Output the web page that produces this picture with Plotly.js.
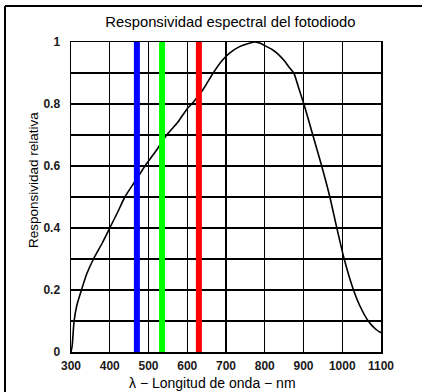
<!DOCTYPE html>
<html>
<head>
<meta charset="utf-8">
<script src="https://cdn.plot.ly/plotly-3.0.1.min.js"></script>
<style>html,body{margin:0;padding:0;background:#fff;}</style>
</head>
<body>
<div id="chart" style="width:422px;height:392px;"></div>
<script>
// Relative spectral responsivity of the photodiode
var wavelength = [300, 303, 308, 315, 327, 340, 358, 380, 400, 420, 439, 465, 491, 520, 547, 575, 600, 615, 640, 667, 690, 710, 735, 760, 775, 790, 805, 820, 835, 850, 865, 875, 888, 901, 924, 947, 968, 986, 1005, 1029, 1045, 1067, 1085, 1100];
var responsivity = [0.0, 0.02, 0.1, 0.15, 0.2, 0.25, 0.3, 0.35, 0.4, 0.45, 0.5, 0.55, 0.6, 0.65, 0.7, 0.74, 0.785, 0.805, 0.845, 0.9, 0.94, 0.965, 0.985, 0.996, 1.0, 0.995, 0.985, 0.975, 0.96, 0.94, 0.915, 0.9, 0.85, 0.8, 0.7, 0.6, 0.5, 0.4, 0.3, 0.2, 0.15, 0.1, 0.075, 0.062];

// LED wavelength markers
var ledNames = ["Azul", "Verde", "Rojo"];
var ledWavelengths = [470, 535, 630];
var ledColors = ["#0000FF", "#00FF00", "#FF0000"];

var xTicks = [300, 400, 500, 600, 700, 800, 900, 1000, 1100];
var yTickVals = [0, 0.1, 0.2, 0.3, 0.4, 0.5, 0.6, 0.7, 0.8, 0.9, 1];
var yTickText = ["0", "", "0.2", "", "0.4", "", "0.6", "", "0.8", "", "1"];

var traces = [{
  x: wavelength, y: responsivity, type: "scatter", mode: "lines",
  line: {color: "#000", width: 1.6, shape: "spline", smoothing: 0.6},
  hoverinfo: "x+y", showlegend: false
}];
for (var i = 0; i < ledWavelengths.length; i++) {
  traces.push({
    x: [ledWavelengths[i], ledWavelengths[i]], y: [0, 1],
    type: "scatter", mode: "lines", name: ledNames[i],
    line: {color: ledColors[i], width: 6}, showlegend: false
  });
}

var tickFont = {family: "Liberation Sans, Arial, sans-serif", size: 12, color: "#1a1a1a", weight: "bold"};

var layout = {
  width: 422, height: 392,
  margin: {l: 71, r: 41, t: 42, b: 40},
  paper_bgcolor: "#fff", plot_bgcolor: "#fff",
  title: {
    text: "Responsividad espectral del fotodiodo",
    font: {family: "Liberation Sans, Arial, sans-serif", size: 14.8, color: "#000"},
    xref: "container", yref: "container", x: 0.546, y: 1 - 22/392,
    xanchor: "center", yanchor: "middle"
  },
  xaxis: {
    range: [300, 1100], tickvals: xTicks, ticktext: xTicks.map(String),
    showgrid: true, gridcolor: "#000", gridwidth: 1.4,
    showline: true, linecolor: "#000", linewidth: 1.5, mirror: true,
    ticks: "", ticklabelstandoff: 2, tickfont: tickFont, zeroline: false,
    fixedrange: true
  },
  yaxis: {
    range: [0, 1], tickvals: yTickVals, ticktext: yTickText,
    showgrid: true, gridcolor: "#000", gridwidth: 1.4,
    showline: true, linecolor: "#000", linewidth: 1.5, mirror: true,
    ticks: "", ticklabelstandoff: 7, tickfont: tickFont, zeroline: false,
    fixedrange: true
  },
  annotations: [
    {text: "λ − Longitud de onda − nm", xref: "paper", yref: "paper",
     x: (212 - 71) / 310, y: (352 - 383) / 310, xanchor: "center", yanchor: "middle",
     showarrow: false, font: {family: "Liberation Sans, Arial, sans-serif", size: 14, color: "#000"}},
    {text: "Responsividad relativa", xref: "paper", yref: "paper",
     x: (33 - 71) / 310, y: (352 - 180) / 310, xanchor: "center", yanchor: "middle",
     textangle: -90, showarrow: false,
     font: {family: "Liberation Sans, Arial, sans-serif", size: 13.5, color: "#000"}}
  ],
  shapes: [
    {type: "line", xref: "paper", yref: "paper", x0: (5 - 71) / 310, x1: (5 - 71) / 310,
     y0: (352 - 6) / 310, y1: (352 - 400) / 310, line: {color: "#000", width: 2}},
    {type: "line", xref: "paper", yref: "paper", x0: (5 - 71) / 310, x1: (430 - 71) / 310,
     y0: (352 - 6) / 310, y1: (352 - 6) / 310, line: {color: "#000", width: 2}}
  ],
  showlegend: false
};

Plotly.newPlot("chart", traces, layout, {displayModeBar: false, staticPlot: true});
</script>
</body>
</html>
